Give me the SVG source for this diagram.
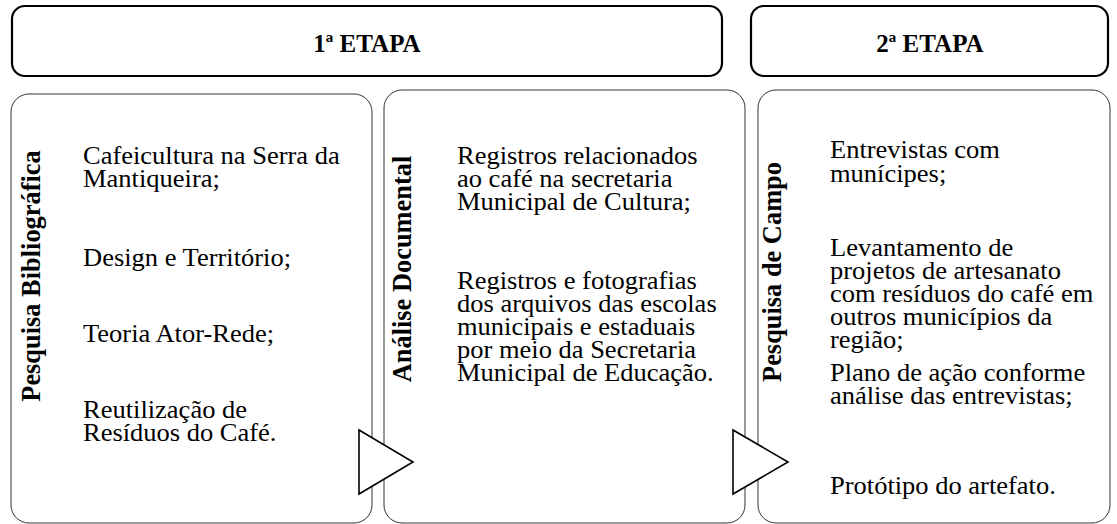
<svg xmlns="http://www.w3.org/2000/svg" width="1117" height="524" viewBox="0 0 1117 524">
<style>
.stage{fill:#fff;stroke:#000;stroke-width:2.2}
.panel{fill:#fff;stroke:#333;stroke-width:1}
.arrow{fill:#fff;stroke:#000;stroke-width:1.6;stroke-linejoin:miter}
text{font-family:'Liberation Serif','Times New Roman',serif;fill:#000}
.title{font-weight:bold;font-size:25px;text-anchor:middle}
.vlabel{font-weight:bold;font-size:26.4px;text-anchor:middle}
.body{font-size:25px}
</style>
<rect width="1117" height="524" fill="#fff"/>
<g id="etapa1">
<rect class="stage" x="12" y="6" width="710" height="70" rx="13"/>
<text class="title" x="367" y="52">1ª ETAPA</text>
</g>
<g id="etapa2">
<rect class="stage" x="751" y="6" width="357" height="70" rx="13"/>
<text class="title" x="930" y="52">2ª ETAPA</text>
</g>
<g id="pesquisa-bibliografica">
<rect class="panel" x="11" y="94" width="361" height="429" rx="18"/>
<text class="vlabel" transform="translate(40 276) rotate(-90)">Pesquisa Bibliográfica</text>
<text class="body" transform="translate(83 0) scale(1.06 1)"><tspan x="0" y="164">Cafeicultura na Serra da</tspan><tspan x="0" y="187">Mantiqueira;</tspan><tspan x="0" y="266">Design e Território;</tspan><tspan x="0" y="342">Teoria Ator-Rede;</tspan><tspan x="0" y="418">Reutilização de</tspan><tspan x="0" y="441">Resíduos do Café.</tspan></text>
</g>
<g id="analise-documental">
<rect class="panel" x="384" y="90" width="361" height="433" rx="18"/>
<text class="vlabel" transform="translate(411 269) rotate(-90)">Análise Documental</text>
<text class="body" transform="translate(457 0) scale(1.06 1)"><tspan x="0" y="164">Registros relacionados</tspan><tspan x="0" y="187">ao café na secretaria</tspan><tspan x="0" y="210">Municipal de Cultura;</tspan><tspan x="0" y="289">Registros e fotografias</tspan><tspan x="0" y="312">dos arquivos das escolas</tspan><tspan x="0" y="335">municipais e estaduais</tspan><tspan x="0" y="358">por meio da Secretaria</tspan><tspan x="0" y="381">Municipal de Educação.</tspan></text>
</g>
<g id="pesquisa-de-campo">
<rect class="panel" x="758" y="90" width="352" height="433" rx="18"/>
<text class="vlabel" transform="translate(781 272) rotate(-90)">Pesquisa de Campo</text>
<text class="body" transform="translate(830 0) scale(1.06 1)"><tspan x="0" y="158">Entrevistas com</tspan><tspan x="0" y="182">munícipes;</tspan><tspan x="0" y="256">Levantamento de</tspan><tspan x="0" y="279">projetos de artesanato</tspan><tspan x="0" y="302">com resíduos do café em</tspan><tspan x="0" y="325">outros municípios da</tspan><tspan x="0" y="348">região;</tspan><tspan x="0" y="381">Plano de ação conforme</tspan><tspan x="0" y="404">análise das entrevistas;</tspan><tspan x="0" y="494">Protótipo do artefato.</tspan></text>
</g>
<g id="connectors">
<polygon class="arrow" points="359,430 413,462 359,494"/>
<polygon class="arrow" points="733,430 788,462 733,494"/>
</g>
</svg>
